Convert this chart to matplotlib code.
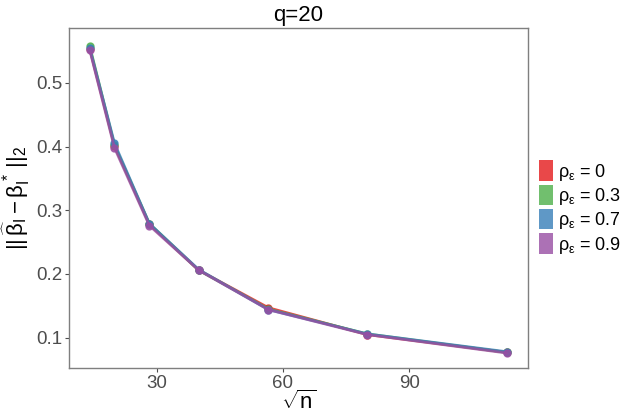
import numpy as np
import matplotlib
matplotlib.use('Agg')
import matplotlib.pyplot as plt
from matplotlib.patches import Patch

plt.rcParams['font.family'] = ['Liberation Sans', 'DejaVu Sans']
plt.rcParams['mathtext.fontset'] = 'custom'
plt.rcParams['mathtext.rm'] = 'Liberation Sans'
plt.rcParams['mathtext.it'] = 'Liberation Sans'
plt.rcParams['mathtext.bf'] = 'Liberation Sans:bold'

# data
sqrt_n = np.sqrt([200, 400, 800, 1600, 3200, 6400, 12800])
rho_labels = ['0', '0.3', '0.7', '0.9']
err_rho0 = [0.553, 0.401, 0.278, 0.206, 0.147, 0.105, 0.077]
err_rho03 = [0.557, 0.402, 0.279, 0.206, 0.145, 0.106, 0.077]
err_rho07 = [0.554, 0.405, 0.279, 0.207, 0.144, 0.106, 0.078]
err_rho09 = [0.551, 0.398, 0.276, 0.206, 0.144, 0.105, 0.076]
series = [err_rho0, err_rho03, err_rho07, err_rho09]
colors = ['#E41A1C', '#4DAF4A', '#377EB8', '#984EA3']

fig = plt.figure(figsize=(6.24, 4.16), dpi=100)
ax = fig.add_axes([69/624, 1-368/416, (528-69)/624, (368-28)/416])

for ys, c in zip(series, colors):
    ax.plot(sqrt_n, ys, color=c, alpha=0.8, lw=2.0, marker='o', ms=5,
            solid_capstyle='round')

ax.set_xlim(9.2, 118.2)
ax.set_ylim(0.0525, 0.586)
ax.set_xticks([30, 60, 90])
ax.set_yticks([0.1, 0.2, 0.3, 0.4, 0.5])
ax.set_yticklabels(['0.1', '0.2', '0.3', '0.4', '0.5'])
ax.tick_params(colors='#4D4D4D', labelsize=13.5, length=3, width=0.8,
               labelcolor='#4D4D4D', pad=2)
for s in ax.spines.values():
    s.set_color('#7F7F7F')
    s.set_linewidth(1.0)

ax.set_title('q=20', fontsize=16, pad=5)
ax.set_xlabel(r'$\sqrt{\mathrm{n}}$', fontsize=16, labelpad=-1)
ax.set_ylabel(r'$||\,\widehat{\beta}_\mathrm{I} - \beta^*_\mathrm{I}\,||_2$',
              fontsize=16, labelpad=3)

handles = [Patch(facecolor=c, alpha=0.8, edgecolor='none') for c in colors]
labels = [r'$\rho_\epsilon$ = %s' % r for r in rho_labels]
fig.legend(handles, labels, loc='center left', bbox_to_anchor=(539/624, 0.5),
           frameon=False, fontsize=13, handlelength=0.8, handleheight=1.35,
           handletextpad=0.25, labelspacing=0.12, borderaxespad=0,
           borderpad=0)

fig.savefig('out.png', dpi=100)
